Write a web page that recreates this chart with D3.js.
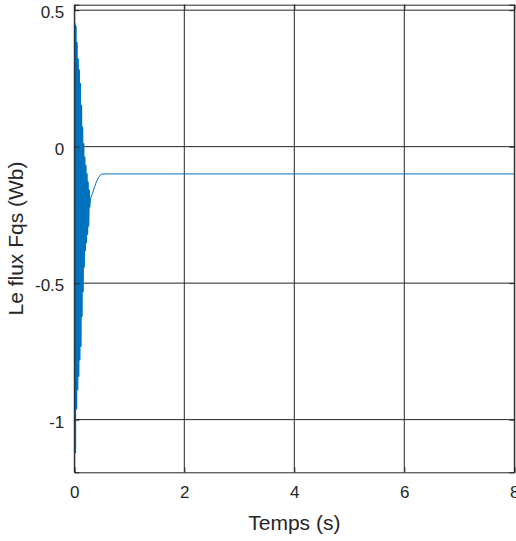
<!DOCTYPE html>
<html>
<head>
<meta charset="utf-8">
<script src="https://cdn.jsdelivr.net/npm/d3@7"></script>
<style>
  html, body { margin: 0; padding: 0; background: #fff; }
  svg { display: block; }
  text { font-family: "Liberation Sans", Arial, Helvetica, sans-serif; fill: #262626; }
</style>
</head>
<body>
<svg id="chart" width="516" height="541"></svg>
<script>
// Stator flux, q axis: sampled time (s) and flux (Wb)
const fluxTime = [
  0, 0.005, 0.015, 0.025, 0.035, 0.045, 0.055, 0.065, 0.075, 0.085, 0.095,
  0.105, 0.115, 0.125, 0.135, 0.145, 0.155, 0.165, 0.175, 0.185, 0.195,
  0.205, 0.215, 0.225, 0.235, 0.245, 0.255, 0.265, 0.275, 0.285, 0.295,
  0.33, 0.36, 0.38, 0.40, 0.44, 0.47, 0.50, 0.55, 1, 2, 4, 6, 8
];
const fluxValue = [
  0, 0.45, -1.12, 0.44, -0.96, 0.38, -0.89, 0.32, -0.84, 0.28, -0.78,
  0.23, -0.73, 0.15, -0.62, 0.07, -0.53, 0.01, -0.44, -0.04, -0.38,
  -0.07, -0.35, -0.10, -0.32, -0.13, -0.29, -0.16, -0.22, -0.19, -0.19,
  -0.172, -0.152, -0.142, -0.13, -0.113, -0.105, -0.101, -0.1, -0.1, -0.1, -0.1, -0.1, -0.1
];
// sample index where the fast start-up oscillation has died out
const oscillationEnd = 30;

const xTicks = [0, 2, 4, 6, 8];
const yTicks = [-1, -0.5, 0, 0.5];
const xDomain = [0, 8];
const yDomain = [-1.193, 0.52];
const xLabel = "Temps (s)";
const yLabel = "Le flux Fqs (Wb)";

const svg = d3.select("#chart");
const box = { left: 74.3, right: 514.3, top: 4.7, bottom: 472.3 };

const x = d3.scaleLinear().domain(xDomain).range([box.left, box.right]);
const y = d3.scaleLinear().domain(yDomain).range([box.bottom, box.top]);

const axisColor = "#262626";

// grid lines
svg.append("g").selectAll("line").data(xTicks).join("line")
  .attr("x1", d => x(d)).attr("x2", d => x(d))
  .attr("y1", box.top).attr("y2", box.bottom)
  .attr("stroke", axisColor).attr("stroke-width", 1);
svg.append("g").selectAll("line").data(yTicks).join("line")
  .attr("x1", box.left).attr("x2", box.right)
  .attr("y1", d => y(d)).attr("y2", d => y(d))
  .attr("stroke", axisColor).attr("stroke-width", 1);

// data line, clipped to the axes box
svg.append("clipPath").attr("id", "plotClip")
  .append("rect").attr("x", box.left).attr("y", box.top)
  .attr("width", box.right - box.left).attr("height", box.bottom - box.top);

const points = fluxTime.map((t, i) => [t, fluxValue[i]]);
const line = d3.line().x(d => x(d[0])).y(d => y(d[1]));
const plot = svg.append("g").attr("clip-path", "url(#plotClip)");
// dense start-up oscillation (drawn heavier so the band reads solid)
plot.append("path")
  .attr("d", line(points.slice(0, oscillationEnd + 1)))
  .attr("fill", "none")
  .attr("stroke", "#0072BD")
  .attr("stroke-width", 2)
  .attr("stroke-linejoin", "round");
// settling tail and steady state
plot.append("path")
  .attr("d", line(points.slice(oscillationEnd)))
  .attr("fill", "none")
  .attr("stroke", "#0072BD")
  .attr("stroke-width", 1);

// axes with inward ticks on all four sides
const tickLen = 5;
const bottomAxis = d3.axisBottom(x).tickValues(xTicks).tickSize(-tickLen).tickPadding(14).tickFormat(d3.format("d"));
const leftAxis = d3.axisLeft(y).tickValues(yTicks).tickSize(-tickLen).tickPadding(10).tickFormat(d => String(d));
const topAxis = d3.axisTop(x).tickValues(xTicks).tickSize(-tickLen).tickFormat("");
const rightAxis = d3.axisRight(y).tickValues(yTicks).tickSize(-tickLen).tickFormat("");

function styleAxis(g) {
  g.select(".domain").attr("stroke", axisColor).attr("stroke-width", 1);
  g.selectAll(".tick line").attr("stroke", axisColor).attr("stroke-width", 1);
  g.selectAll(".tick text").attr("fill", axisColor).style("font-size", "17px")
    .style("font-family", '"Liberation Sans", Arial, Helvetica, sans-serif');
}

svg.append("g").attr("transform", `translate(0,${box.bottom})`).call(bottomAxis).call(styleAxis);
svg.append("g").attr("transform", `translate(${box.left},0)`).call(leftAxis).call(styleAxis)
  .selectAll(".tick text").attr("dy", "0.45em");
svg.append("g").attr("transform", `translate(0,${box.top})`).call(topAxis).call(styleAxis);
svg.append("g").attr("transform", `translate(${box.right},0)`).call(rightAxis).call(styleAxis);

// axis titles
svg.append("text")
  .attr("x", (box.left + box.right) / 2).attr("y", 529.5)
  .attr("text-anchor", "middle")
  .style("font-size", "21px")
  .text(xLabel);

svg.append("text")
  .attr("transform", `translate(22.5,${(box.top + box.bottom) / 2}) rotate(-90)`)
  .attr("text-anchor", "middle")
  .style("font-size", "21px")
  .text(yLabel);
</script>
</body>
</html>
